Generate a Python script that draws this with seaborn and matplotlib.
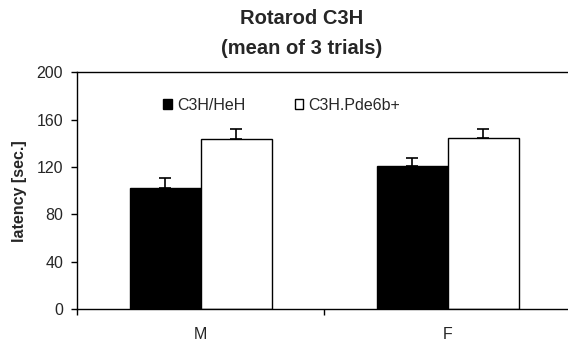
import numpy as np
import pandas as pd
import matplotlib
matplotlib.use('Agg')
import matplotlib.pyplot as plt
import seaborn as sns

# values
sexes = ['M', 'F']
strains = ['C3H/HeH', 'C3H.Pde6b+']
latency_heh = [102.5, 120.7]
latency_pde = [143.5, 144.8]
sem_heh = [8.5, 7.0]
sem_pde = [9.0, 7.5]
yticks = [0, 40, 80, 120, 160, 200]

df = pd.DataFrame({
    'sex': sexes * 2,
    'strain': [strains[0]] * 2 + [strains[1]] * 2,
    'latency': latency_heh + latency_pde,
    'sem': sem_heh + sem_pde,
})

sns.set_style('ticks')
plt.rcParams['font.family'] = ['Liberation Sans', 'DejaVu Sans']

fig = plt.figure(figsize=(5.68, 3.45), dpi=100)
ax = fig.add_axes([77 / 568, 1 - 309 / 345, 494.5 / 568, (309 - 72.3) / 345])

sns.barplot(data=df, x='sex', y='latency', hue='strain', order=sexes,
            hue_order=strains, palette=['black', 'white'], edgecolor='black',
            linewidth=1, width=0.575, errorbar=None, ax=ax)

# upper-only error bars
for cont, strain in zip(ax.containers, strains):
    sub = df[df['strain'] == strain].set_index('sex').loc[sexes]
    xs = [p.get_x() + p.get_width() / 2 for p in cont.patches]
    ys = sub['latency'].values
    err = sub['sem'].values
    ax.errorbar(xs, ys, yerr=[np.zeros_like(err), err], fmt='none',
                ecolor='black', elinewidth=1.2, capsize=4, capthick=1.2)

ax.set_xlim(-0.5, 1.5)
ax.set_ylim(0, 200)
ax.set_yticks(yticks)
ax.set_xticks([0, 1])
ax.set_xticklabels(sexes)
ax.set_xticks([-0.5, 0.5, 1.5], minor=True)
ax.tick_params(axis='x', which='major', length=0, pad=13, labelsize=11.5)
ax.tick_params(axis='x', which='minor', length=4, width=1, color='black')
ax.tick_params(axis='y', length=4, width=1, pad=6, labelsize=11.5, color='black')
ax.set_xlabel('')
ax.set_ylabel('latency [sec.]', fontsize=11.5, fontweight='bold')
ax.yaxis.set_label_coords(-0.101, 0.5)

for s in ['left', 'bottom', 'top']:
    ax.spines[s].set_visible(True)
    ax.spines[s].set_color('black')
    ax.spines[s].set_linewidth(1)
ax.spines['right'].set_visible(False)

ax.legend(loc='center left', bbox_to_anchor=(0.174, 0.86), ncol=2,
          frameon=False, fontsize=11.5, handlelength=0.56, handleheight=0.56,
          handletextpad=0.3, columnspacing=3.1, borderpad=0, borderaxespad=0)

fig.text(302 / 568, 1 - 18 / 345, 'Rotarod C3H', ha='center', va='center',
         fontsize=14.5, fontweight='bold')
fig.text(302 / 568, 1 - 48 / 345, '(mean of 3 trials)', ha='center', va='center',
         fontsize=14.5, fontweight='bold')

fig.savefig('out.png', dpi=100)
